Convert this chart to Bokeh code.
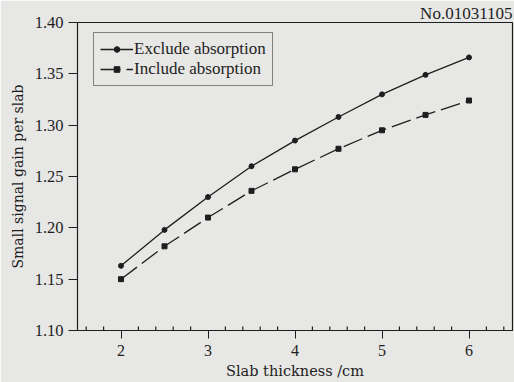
import math
from bokeh.plotting import figure
from bokeh.models import Legend, LegendItem, FixedTicker, Title
from bokeh.embed import file_html
from bokeh.resources import INLINE

# slab thickness (cm) and small-signal gain per slab
thickness = [2.0, 2.5, 3.0, 3.5, 4.0, 4.5, 5.0, 5.5, 6.0]
gain_exclude = [1.163, 1.198, 1.230, 1.260, 1.285, 1.308, 1.330, 1.349, 1.366]
gain_include = [1.150, 1.182, 1.210, 1.236, 1.257, 1.277, 1.295, 1.310, 1.324]

x_ticks = [2, 3, 4, 5, 6]
x_minor_ticks = [1.6, 1.8, 2.2, 2.4, 2.6, 2.8, 3.2, 3.4, 3.6, 3.8,
                 4.2, 4.4, 4.6, 4.8, 5.2, 5.4, 5.6, 5.8, 6.2, 6.4]
y_ticks = [1.10, 1.15, 1.20, 1.25, 1.30, 1.35, 1.40]
y_tick_labels = {1.10: "1.10", 1.15: "1.15", 1.20: "1.20", 1.25: "1.25",
                 1.30: "1.30", 1.35: "1.35", 1.40: "1.40"}

X_RANGE = (1.5, 6.5)
Y_RANGE = (1.10, 1.40)

BG = "#e7e7e5"
INK = "#1e1e1e"
SERIF = "Liberation Serif"

p = figure(width=514, height=382, x_range=X_RANGE, y_range=Y_RANGE,
           output_backend="svg", toolbar_location=None,
           min_border_left=77, min_border_right=2,
           min_border_top=22, min_border_bottom=52)
p.background_fill_color = BG
p.border_fill_color = BG
p.outline_line_color = INK
p.outline_line_width = 1.2
p.grid.visible = False

t = Title(text="No.01031105", align="right", text_font=SERIF,
          text_font_size="17px", text_font_style="normal", text_color=INK,
          standoff=0, offset=0)
p.add_layout(t, "above")

# x axis: major ticks point outward at whole centimetres
xa = p.xaxis[0]
xa.ticker = FixedTicker(ticks=x_ticks, minor_ticks=[])
xa.major_tick_out = 8
xa.major_tick_in = 0
xa.minor_tick_in = 0
xa.minor_tick_out = 0
xa.axis_label = "Slab thickness /cm"
xa.axis_label_text_font = "DejaVu Serif"
xa.axis_label_text_font_style = "normal"
xa.axis_label_text_font_size = "14.5px"
xa.axis_label_standoff = 4
xa.major_label_text_font = SERIF
xa.major_label_text_font_size = "16px"
xa.major_label_standoff = 6

ya = p.yaxis[0]
ya.ticker = FixedTicker(ticks=y_ticks, minor_ticks=[])
ya.major_label_overrides = y_tick_labels
ya.major_tick_out = 9
ya.major_tick_in = 0
ya.minor_tick_out = 0
ya.minor_tick_in = 0
ya.axis_label = "Small signal gain per slab"
ya.axis_label_text_font = "DejaVu Serif"
ya.axis_label_text_font_style = "normal"
ya.axis_label_text_font_size = "14px"
ya.axis_label_standoff = 6
ya.major_label_text_font = SERIF
ya.major_label_text_font_size = "16.5px"
ya.major_label_standoff = 5

for ax in (xa, ya):
    ax.axis_line_color = INK
    ax.major_tick_line_color = INK
    ax.major_label_text_color = INK
    ax.axis_label_text_color = INK

# inward minor ticks along the bottom edge: vertical dashes centred on the
# axis line, the lower half clipped away by the frame
p.scatter(x_minor_ticks, [Y_RANGE[0]] * len(x_minor_ticks), marker="dash",
          angle=math.pi / 2, size=8, line_color=INK, line_width=1.2)

l1 = p.line(thickness, gain_exclude, line_color=INK, line_width=1.3)
m1 = p.scatter(thickness, gain_exclude, marker="circle", size=5,
               fill_color=INK, line_color=INK)
l2 = p.line(thickness, gain_include, line_color=INK, line_width=1.3,
            line_dash="20 6")
m2 = p.scatter(thickness, gain_include, marker="square", size=5,
               fill_color=INK, line_color=INK)

legend = Legend(items=[
    LegendItem(label="Exclude absorption", renderers=[l1, m1]),
    LegendItem(label="Include absorption", renderers=[l2, m2]),
], location=(16, 244))
legend.background_fill_color = BG
legend.background_fill_alpha = 1
legend.border_line_color = INK
legend.border_line_width = 1.2
legend.label_text_font = SERIF
legend.label_text_font_size = "17px"
legend.label_text_color = INK
legend.glyph_width = 33
legend.glyph_height = 14
legend.label_standoff = 1
legend.label_height = 14
legend.spacing = -3
legend.padding = 6
legend.margin = 0
p.add_layout(legend, "center")

open("out.html", "w").write(file_html(p, INLINE))
